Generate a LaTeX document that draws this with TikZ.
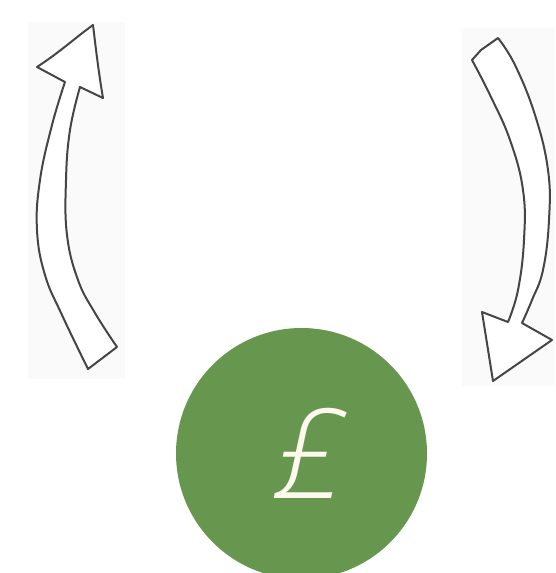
\documentclass[tikz,border=0pt]{standalone}
\usepackage{fontspec}
\newfontfamily\poundfont{Open Sans Light}
\definecolor{pen}{HTML}{454545}
\definecolor{paper}{HTML}{FAFAFA}
\definecolor{coin}{HTML}{67974F}
\definecolor{cream}{HTML}{FFF8EE}
\tikzset{
  sketch/.style={draw=pen, line width=2pt, line join=round, line cap=round, fill=white},
  sheet/.style={fill=paper, draw=none},
  coinnode/.style={circle, fill=coin, draw=none, minimum size=251pt, inner sep=0pt,
    text=cream, font=\poundfont\itshape\fontsize{125}{125}\selectfont}
}
\begin{document}
\begin{tikzpicture}[x=1pt,y=-1pt]
\useasboundingbox (0,0) rectangle (555,573);
% paper backgrounds
\fill[sheet] (28,22) rectangle (125,379);
\fill[sheet] (462,28) rectangle (555,386);
% left arrow (up)
\draw[sketch] (65,82) -- (37,67) .. controls (60,52) and (75,38) .. (93,25)
  .. controls (96,50) and (99,75) .. (103,98) -- (80,87)
  -- plot[smooth, tension=0.7] coordinates {(80,87) (70,130) (66,180) (67,235) (78,280) (95,313) (117,347)}
  -- (88,369)
  -- plot[smooth, tension=0.7] coordinates {(88,369) (62,315) (45,275) (37,230) (40,180) (52,125) (65,82)}
  -- cycle;
% right arrow (down)
\draw[sketch] (472,60) -- (481,50) -- (498,38)
  -- plot[smooth, tension=0.7] coordinates {(498,38) (515,65) (535,115) (548,170) (549,220) (543,270) (532,300) (522,323)}
  -- (552,340) -- (493,381) -- (482,312) -- (508,322)
  -- plot[smooth, tension=0.7] coordinates {(508,322) (518,290) (524,240) (523,190) (510,140) (490,95) (472,60)}
  -- cycle;
% coin
\node[coinnode] (money) at (301.5,453.5) {\hspace*{14pt}£};
\end{tikzpicture}
\end{document}
